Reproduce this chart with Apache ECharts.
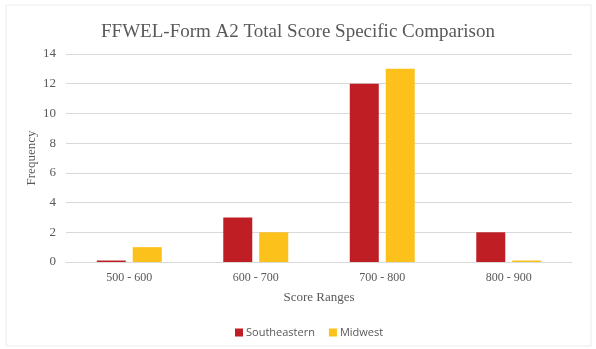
<!DOCTYPE html>
<html><head><meta charset="utf-8">
<script src="https://cdn.jsdelivr.net/npm/echarts@6/dist/echarts.min.js"></script>
<style>html,body{margin:0;padding:0;background:#fff}#c{width:596px;height:349px}</style>
</head><body><div id="c"></div>
<script>
const categories = ['500 - 600', '600 - 700', '700 - 800', '800 - 900'];
const southeastern = [0.1, 3, 12, 2];
const midwest = [1, 2, 13, 0.1];
const yTicks = {min: 0, max: 14, interval: 2};

const chart = echarts.init(document.getElementById('c'), null, {renderer: 'canvas'});
const serif = '"Liberation Serif", "DejaVu Serif", serif';
chart.setOption({
  animation: false,
  backgroundColor: '#fff',
  graphic: [{type: 'rect', shape: {x: 6, y: 5, width: 585, height: 341}, style: {fill: 'none', stroke: '#ececec', lineWidth: 1}, silent: true}],
  title: {text: 'FFWEL-Form A2 Total Score Specific Comparison', left: 'center', top: 18,
    textStyle: {fontFamily: serif, fontSize: 19, fontWeight: 'normal', color: '#595959'}},
  grid: {left: 66, right: 24, top: 54, bottom: 87, containLabel: false},
  legend: {bottom: 6, left: 230, itemWidth: 8, itemHeight: 8, itemGap: 14, icon: 'rect',
    textStyle: {fontFamily: '"Open Sans", sans-serif', fontSize: 11, color: '#595959', padding: [0,0,0,-2]},
    data: ['Southeastern', 'Midwest']},
  xAxis: {type: 'category', data: categories, name: 'Score Ranges', nameLocation: 'middle', nameGap: 29,
    nameMoveOverlap: false,
    nameTextStyle: {fontFamily: serif, fontSize: 13, color: '#595959'},
    axisLine: {lineStyle: {color: '#d9d9d9'}}, axisTick: {show: false},
    axisLabel: {fontFamily: serif, fontSize: 12, color: '#595959', margin: 10}},
  yAxis: {type: 'value', min: yTicks.min, max: yTicks.max, interval: yTicks.interval,
    name: 'Frequency', nameLocation: 'middle', nameGap: 28, nameMoveOverlap: false,
    nameTextStyle: {fontFamily: serif, fontSize: 13, color: '#595959'},
    axisLine: {show: false}, axisTick: {show: false},
    splitLine: {lineStyle: {color: '#d9d9d9'}},
    axisLabel: {fontFamily: serif, fontSize: 13, color: '#595959', margin: 10}},
  series: [
    {name: 'Southeastern', type: 'bar', data: southeastern, barWidth: 29, barGap: '24%', itemStyle: {color: '#BE1E24'}},
    {name: 'Midwest', type: 'bar', data: midwest, barWidth: 29, barGap: '24%', itemStyle: {color: '#FCC11A'}}
  ]
});
</script></body></html>
